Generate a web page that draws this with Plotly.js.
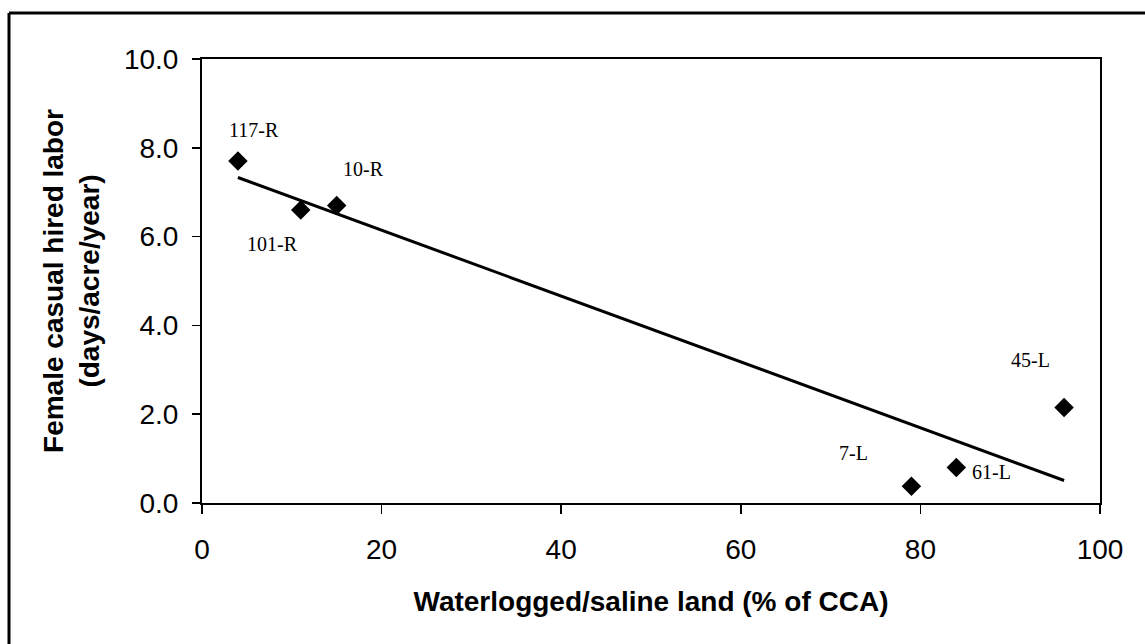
<!DOCTYPE html>
<html>
<head>
<meta charset="utf-8">
<script src="https://cdn.plot.ly/plotly-3.0.1.min.js"></script>
<style>
  html, body { margin: 0; padding: 0; background: #ffffff; }
  #chart { width: 1145px; height: 644px; }
</style>
</head>
<body>
<div id="chart"></div>
<script>
// ---- Data ----
const siteLabels = ["117-R", "101-R", "10-R", "7-L", "61-L", "45-L"];
const waterloggedPct = [4, 11, 15, 79, 84, 96];          // % of CCA
const femaleLabor = [7.7, 6.6, 6.7, 0.38, 0.8, 2.15];     // days/acre/year
const xTickVals = [0, 20, 40, 60, 80, 100];
const yTickVals = [0, 2, 4, 6, 8, 10];

// Label placement offsets (pixels, relative to each point) – styling only
const labelShiftX = [16, -28, 27, -58, 35, -34];
const labelShiftY = [31, -34, 37, 33, -5, 48];

// Least-squares linear trend line computed from the data
function linearFit(xs, ys) {
  const n = xs.length;
  const mx = xs.reduce((a, b) => a + b, 0) / n;
  const my = ys.reduce((a, b) => a + b, 0) / n;
  let sxy = 0, sxx = 0;
  for (let i = 0; i < n; i++) {
    sxy += (xs[i] - mx) * (ys[i] - my);
    sxx += (xs[i] - mx) * (xs[i] - mx);
  }
  const slope = sxy / sxx;
  return { slope: slope, intercept: my - slope * mx };
}
const fit = linearFit(waterloggedPct, femaleLabor);
const xMin = Math.min(...waterloggedPct), xMax = Math.max(...waterloggedPct);
const trendX = [xMin, xMax];
const trendY = trendX.map(x => fit.intercept + fit.slope * x);

const traces = [
  {
    x: trendX, y: trendY, type: "scatter", mode: "lines",
    line: { color: "#000000", width: 3 },
    hoverinfo: "skip", showlegend: false
  },
  {
    x: waterloggedPct, y: femaleLabor, type: "scatter", mode: "markers",
    marker: { symbol: "diamond", size: 15, color: "#000000" },
    text: siteLabels, showlegend: false
  }
];

const annotations = siteLabels.map((lab, i) => ({
  x: waterloggedPct[i], y: femaleLabor[i], xref: "x", yref: "y",
  text: lab, showarrow: false,
  xshift: labelShiftX[i], yshift: labelShiftY[i],
  font: { family: "Liberation Serif, 'Times New Roman', serif", size: 20, color: "#000000" }
}));

// Outer frame (only top and left edges visible in the cropped reference)
const L = 202, R = 1100, T = 59, B = 503;
const pw = R - L, ph = B - T;
const frameX = (9 - L) / pw;
const frameY = 1 + (T - 13) / ph;

const layout = {
  width: 1145, height: 644,
  margin: { l: L, r: 1145 - R, t: T, b: 644 - B, pad: 0 },
  paper_bgcolor: "#ffffff", plot_bgcolor: "#ffffff",
  font: { family: "Liberation Sans, Arial, sans-serif", color: "#000000" },
  showlegend: false,
  xaxis: {
    range: [0, 100], tickvals: xTickVals, ticktext: xTickVals.map(String),
    showgrid: false, zeroline: false,
    showline: true, linecolor: "#000000", linewidth: 2, mirror: true,
    ticks: "outside", ticklen: 9, tickwidth: 1.5, tickcolor: "#000000",
    ticklabelstandoff: 11,
    tickfont: { size: 28, family: "Liberation Sans, Arial, sans-serif" },
    automargin: false,
    title: {
      text: "<b>Waterlogged/saline land (% of CCA)</b>",
      font: { size: 28, family: "Liberation Sans, Arial, sans-serif" },
      standoff: 28
    }
  },
  yaxis: {
    range: [0, 10], tickvals: yTickVals, ticktext: yTickVals.map(v => v.toFixed(1)),
    showgrid: false, zeroline: false,
    showline: true, linecolor: "#000000", linewidth: 2, mirror: true,
    ticks: "outside", ticklen: 8, tickwidth: 1.5, tickcolor: "#000000",
    ticklabelstandoff: 8,
    tickfont: { size: 28, family: "Liberation Sans, Arial, sans-serif" },
    automargin: false,
    title: {
      text: "<b>Female casual hired labor<br>(days/acre/year)</b>",
      font: { size: 28, family: "Liberation Sans, Arial, sans-serif" },
      standoff: 16
    }
  },
  annotations: annotations,
  shapes: [
    { type: "line", xref: "paper", yref: "paper", x0: frameX, x1: frameX, y0: -1, y1: frameY,
      line: { color: "#000000", width: 3 } },
    { type: "line", xref: "paper", yref: "paper", x0: frameX, x1: 1.2, y0: frameY, y1: frameY,
      line: { color: "#000000", width: 3 } }
  ]
};

Plotly.newPlot("chart", traces, layout, { displayModeBar: false, staticPlot: true });
</script>
</body>
</html>
